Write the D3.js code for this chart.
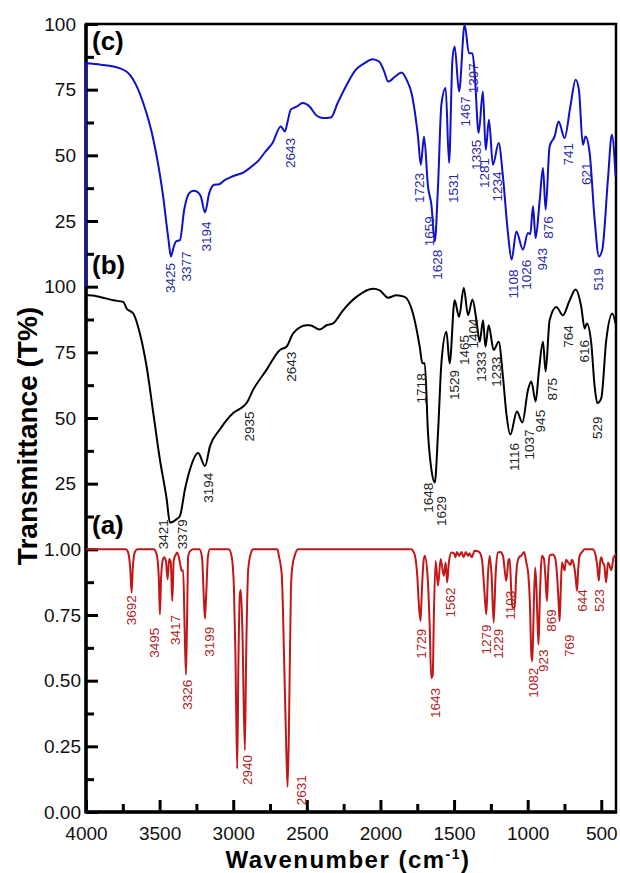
<!DOCTYPE html>
<html>
<head>
<meta charset="utf-8">
<script src="https://cdn.jsdelivr.net/npm/d3@7"></script>
<style>
  body { margin: 0; background: #fff; }
  svg { font-family: "Liberation Sans", Arial, sans-serif; }
</style>
</head>
<body>
<svg id="chart" width="620" height="873"></svg>
<script>
// spectra, [wavenumber, transmittance]
const specC = [
  [4000, 0], [4000, 85.1], [3900, 84.5], [3774, 83.2], [3700, 80.5], [3661, 76.9], [3600, 68],
  [3547, 57.2], [3479, 35.6], [3440, 18], [3423, 11.5], [3405, 15], [3389, 17.2], [3362, 17.7],
  [3333, 29.3], [3299, 35.6], [3270, 36.5], [3242, 36], [3220, 34.4], [3192, 28.3], [3163, 35.6],
  [3129, 38.8], [3095, 39], [3060, 40.5], [3027, 41.4], [2980, 42.5], [2936, 43.3], [2880, 45.5],
  [2824, 48.3], [2780, 51.5], [2733, 54.7], [2677, 61], [2649, 59.1], [2630, 63], [2609, 67.4],
  [2570, 68.5], [2529, 69.9], [2480, 68.5], [2439, 65.4], [2394, 64.2], [2337, 64.4], [2290, 70],
  [2235, 76.2], [2167, 82.6], [2110, 85], [2054, 86.6], [2009, 85.7], [1975, 82], [1948, 78.1],
  [1900, 80], [1857, 81.5], [1820, 78.5], [1789, 73.7], [1760, 64], [1745, 57.2], [1726, 46.4],
  [1704, 57.2], [1677, 38.2], [1654, 31.2], [1631, 17.2], [1609, 38.2], [1586, 69.3], [1557, 75.6],
  [1534, 47.1], [1511, 86.4], [1496, 91.4], [1466, 74.3], [1428, 99.7], [1399, 88.9], [1375, 88.9],
  [1360, 81.3], [1333, 58.5], [1304, 74.3], [1285, 52.1], [1263, 63.5], [1236, 46.4], [1197, 54.7],
  [1168, 42], [1134, 20.4], [1109, 10.3], [1077, 21], [1032, 14.1], [998, 20.4], [982, 20],
  [964, 30.6], [946, 18.5], [919, 32.5], [896, 45.2], [878, 29.3], [851, 53.4], [817, 57.2],
  [790, 62.9], [749, 56.6], [710, 68.6], [674, 78.8], [652, 75], [625, 54], [607, 57.2], [579, 50.9],
  [545, 25.5], [516, 11.5], [493, 14.1], [455, 40.7], [428, 57.8], [403, 42]
];

const specB = [
  [4000, 96.5], [3984, 96.7], [3905, 96.1], [3815, 94.8], [3747, 94.2], [3724, 91.7], [3679, 89.8],
  [3634, 82.2], [3588, 69.5], [3543, 51.9], [3498, 34.2], [3452, 19.1], [3430, 10.2], [3384, 11.5],
  [3362, 12.7], [3328, 22.8], [3294, 30.4], [3238, 36.7], [3192, 31.7], [3158, 39.2], [3091, 45.6],
  [3000, 51.9], [2932, 54.4], [2909, 55.7], [2865, 60.7], [2774, 68.3], [2683, 75.9], [2638, 77.1],
  [2593, 82.2], [2502, 85.3], [2480, 85.3], [2412, 83.7], [2366, 85.3], [2322, 86], [2254, 91],
  [2163, 96.1], [2050, 99.2], [2005, 98.6], [1948, 95.8], [1891, 96.7], [1835, 96.1], [1779, 89.8],
  [1733, 77.1], [1715, 70.8], [1699, 70.8], [1677, 44.3], [1654, 30.4], [1631, 25.4], [1609, 44.3],
  [1586, 70.8], [1552, 82.8], [1530, 70.8], [1496, 94.8], [1466, 88.5], [1434, 99.6], [1405, 89.1],
  [1375, 95.1], [1348, 87.2], [1326, 79], [1303, 87.2], [1287, 77.1], [1265, 85.3], [1231, 75.9],
  [1197, 79], [1168, 65.8], [1145, 51.9], [1118, 43.7], [1073, 52.5], [1036, 48.3], [998, 60.7],
  [975, 63.9], [946, 56.3], [923, 68.3], [896, 79], [878, 67.7], [851, 87.2], [805, 92.3],
  [761, 89.1], [715, 94.8], [674, 98.9], [636, 92.3], [613, 84.1], [598, 86], [568, 78.4],
  [545, 62], [527, 55.7], [500, 57.6], [466, 79.7], [425, 89.8], [403, 86]
];

const specA = [
  [4000, 1], [3730, 1], [3715, 0.99], [3700, 0.93], [3690, 0.835], [3682, 0.93], [3668, 0.99],
  [3650, 1], [3540, 1], [3520, 0.98], [3506, 0.9], [3498, 0.752], [3490, 0.89], [3478, 0.96],
  [3468, 0.97], [3457, 0.955], [3446, 0.886], [3435, 0.963], [3424, 0.95], [3414, 0.803],
  [3404, 0.96], [3392, 0.978], [3380, 0.988], [3362, 0.95], [3350, 0.918], [3340, 0.92],
  [3330, 0.7], [3321, 0.523], [3313, 0.75], [3306, 0.975], [3290, 0.995], [3272, 1], [3230, 1],
  [3212, 0.97], [3200, 0.82], [3192, 0.736], [3184, 0.82], [3172, 0.97], [3158, 1], [3030, 1],
  [3010, 0.97], [2995, 0.85], [2985, 0.6], [2973, 0.165], [2964, 0.6], [2955, 0.83], [2948, 0.845],
  [2938, 0.7], [2921, 0.235], [2912, 0.6], [2898, 0.925], [2880, 0.985], [2864, 1], [2700, 1],
  [2690, 0.975], [2670, 0.9], [2655, 0.6], [2640, 0.25], [2631, 0.096], [2622, 0.3], [2608, 0.85],
  [2598, 0.935], [2580, 0.98], [2559, 1], [1790, 1], [1775, 0.99], [1765, 0.975], [1750, 0.9],
  [1740, 0.8], [1728, 0.727], [1718, 0.85], [1708, 0.95], [1699, 0.976], [1680, 0.9], [1665, 0.7],
  [1655, 0.51], [1645, 0.52], [1637, 0.75], [1625, 0.956], [1609, 0.861], [1591, 0.963],
  [1570, 0.899], [1557, 0.95], [1547, 0.874], [1535, 0.95], [1518, 0.988], [1500, 0.985],
  [1490, 0.97], [1480, 0.99], [1465, 0.975], [1450, 0.99], [1435, 0.97], [1420, 0.99],
  [1405, 0.975], [1395, 0.985], [1380, 0.97], [1360, 0.995], [1330, 0.99], [1310, 0.96],
  [1295, 0.85], [1281, 0.752], [1270, 0.9], [1258, 0.976], [1245, 0.9], [1231, 0.721], [1218, 0.9],
  [1202, 0.988], [1185, 0.99], [1168, 0.976], [1145, 0.88], [1130, 0.96], [1122, 0.963],
  [1112, 0.85], [1104, 0.778], [1088, 0.78], [1078, 0.9], [1073, 0.937], [1058, 0.97],
  [1043, 0.976], [1025, 0.99], [1009, 0.95], [995, 0.9], [985, 0.8], [975, 0.6], [968, 0.574],
  [960, 0.75], [949, 0.931], [940, 0.85], [933, 0.72], [926, 0.638], [918, 0.8], [903, 0.976],
  [890, 0.965], [880, 0.9], [869, 0.803], [860, 0.92], [851, 0.976], [830, 0.98], [815, 0.97],
  [800, 0.9], [790, 0.8], [783, 0.727], [775, 0.85], [767, 0.95], [749, 0.92], [740, 0.96],
  [725, 0.95], [710, 0.94], [700, 0.96], [690, 0.95], [680, 0.92], [672, 0.88], [665, 0.842],
  [657, 0.92], [647, 0.976], [630, 0.99], [613, 1], [557, 1], [540, 0.98], [528, 0.94],
  [516, 0.88], [508, 0.95], [500, 0.97], [490, 0.95], [480, 0.94], [467, 0.874], [455, 0.95],
  [445, 0.94], [432, 0.92], [416, 0.97], [400, 0.98]
];

// peak labels: [text, wavenumber, value at top of the label]
const peaksC = [
  ["3425", 3430, 9.0], ["3377", 3317, 13.4], ["3194", 3181, 24.8], ["2643", 2615, 56.6],
  ["1723", 1733, 43.3], ["1659", 1670, 26.8], ["1628", 1616, 14.1], ["1531", 1502, 43.3],
  ["1467", 1423, 72.4], ["1397", 1371, 85.1], ["1335", 1348, 55.9], ["1281", 1292, 49.0],
  ["1234", 1208, 43.9], ["1108", 1100, 6.5], ["1026", 1009, 10.3], ["943", 900, 14.7],
  ["876", 862, 26.8], ["741", 727, 54.7], ["621", 602, 47.3], ["519", 523, 7.1]
];
const peaksB = [
  ["3421", 3477, 11.5], ["3379", 3344, 11.5], ["3194", 3170, 29.2], ["2935", 2892, 52.5],
  ["2643", 2604, 75.2], ["1718", 1722, 67.0], ["1648", 1677, 25.4], ["1629", 1586, 20.3],
  ["1529", 1496, 68.3], ["1465", 1428, 81.6], ["1404", 1371, 87.9], ["1333", 1314, 75.2],
  ["1233", 1213, 73.3], ["1116", 1088, 40.5], ["1037", 987, 45.6], ["945", 914, 53.1],
  ["875", 833, 65.2], ["764", 727, 85.3], ["616", 613, 79.7], ["529", 527, 50.6]
];
const peaksA = [
  ["3692", 3690, 0.825], ["3495", 3538, 0.702], ["3417", 3396, 0.75], ["3326", 3312, 0.504],
  ["3199", 3163, 0.705], ["2940", 2905, 0.217], ["2631", 2536, 0.14], ["1729", 1722, 0.698],
  ["1643", 1631, 0.472], ["1562", 1525, 0.855], ["1279", 1280, 0.714], ["1229", 1202, 0.698],
  ["1103", 1118, 0.842], ["1082", 964, 0.549], ["923", 896, 0.619], ["869", 839, 0.772],
  ["769", 720, 0.676], ["644", 629, 0.848], ["523", 512, 0.848]
];

const panelNames = ["(c)", "(b)", "(a)"];
const xTicks = [4000, 3500, 3000, 2500, 2000, 1500, 1000, 500];
const xMinor = [3750, 3250, 2750, 2250, 1750, 1250, 750];
const pctTicks = [25, 50, 75, 100];
const pctMinor = [12.5, 37.5, 62.5, 87.5];
const fracTicks = [0, 0.25, 0.5, 0.75, 1];
const fracMinor = [0.125, 0.375, 0.625, 0.875];

const svg = d3.select("#chart");
const mLeft = 86, mRight = 616, mTop = 24, mBottom = 812;
const ph = (mBottom - mTop) / 3;

const x = d3.scaleLinear().domain([4000, 400]).range([mLeft, mRight]);
const yC = d3.scaleLinear().domain([0, 100]).range([mTop + ph, mTop]);
const yB = d3.scaleLinear().domain([0, 100]).range([mTop + 2 * ph, mTop + ph]);
const yA = d3.scaleLinear().domain([0, 1]).range([mBottom, mTop + 2 * ph]);

// nameDy: where the (c)/(b)/(a) tag sits relative to the panel top
const panels = [
  { data: specC, peaks: peaksC, y: yC, color: "#1010c8", text: "#2828a8", ticks: pctTicks, minor: pctMinor, fmt: d3.format("d"), pad: 10, nameDy: 26 },
  { data: specB, peaks: peaksB, y: yB, color: "#000", text: "#222", ticks: pctTicks, minor: pctMinor, fmt: d3.format("d"), pad: 10, nameDy: -13 },
  { data: specA, peaks: peaksA, y: yA, color: "#c01818", text: "#b02020", ticks: fracTicks, minor: fracMinor, fmt: d3.format(".2f"), pad: 5, nameDy: -15 }
];

// frame
svg.append("rect")
  .attr("x", mLeft).attr("y", mTop)
  .attr("width", mRight - mLeft).attr("height", mBottom - mTop)
  .attr("fill", "none").attr("stroke", "#000").attr("stroke-width", 2.5);

// left axes, one per panel
panels.forEach((p) => {
  const g = svg.append("g").attr("transform", `translate(${mLeft},0)`);
  g.call(d3.axisLeft(p.y).tickValues(p.ticks).tickFormat(p.fmt).tickSizeInner(-12).tickSizeOuter(0).tickPadding(p.pad));
  const m = svg.append("g").attr("transform", `translate(${mLeft},0)`);
  m.call(d3.axisLeft(p.y).tickValues(p.minor).tickFormat("").tickSizeInner(-8).tickSizeOuter(0));
  [g, m].forEach((s) => {
    s.select(".domain").remove();
    s.selectAll("line").attr("stroke", "#000").attr("stroke-width", 3);
  });
  g.selectAll("text").attr("font-size", 19).attr("fill", "#111");
});

const gx = svg.append("g").attr("transform", `translate(0,${mBottom})`)
  .call(d3.axisBottom(x).tickValues(xTicks).tickFormat(d3.format("d")).tickSizeInner(-12).tickSizeOuter(0).tickPadding(15));
const gxm = svg.append("g").attr("transform", `translate(0,${mBottom})`)
  .call(d3.axisBottom(x).tickValues(xMinor).tickFormat("").tickSizeInner(-8).tickSizeOuter(0));
[gx, gxm].forEach((s) => {
  s.select(".domain").remove();
  s.selectAll("line").attr("stroke", "#000").attr("stroke-width", 3);
});
gx.selectAll("text").attr("font-size", 19).attr("fill", "#111");

svg.append("line")
  .attr("x1", mLeft).attr("x2", mLeft).attr("y1", mTop).attr("y2", mBottom + 1.5)
  .attr("stroke", "#000").attr("stroke-width", 3.5);
svg.append("line")
  .attr("x1", mLeft).attr("x2", mRight + 1).attr("y1", mBottom).attr("y2", mBottom)
  .attr("stroke", "#000").attr("stroke-width", 3.5);

// spectra + peak labels
panels.forEach((p, i) => {
  const line = d3.line()
    .x((d) => x(d[0]))
    .y((d) => p.y(d[1]))
    .curve(d3.curveMonotoneX);

  svg.append("path")
    .datum(p.data)
    .attr("d", line)
    .attr("fill", "none")
    .attr("stroke", p.color)
    .attr("stroke-width", 2)
    .attr("stroke-linejoin", "round");

  svg.append("g")
    .selectAll("text")
    .data(p.peaks)
    .join("text")
    .attr("transform", (d) => `translate(${x(d[1])},${p.y(d[2])}) rotate(-90)`)
    .attr("text-anchor", "end")
    .attr("dy", "0.35em")
    .attr("font-size", 13.5)
    .attr("fill", p.text)
    .text((d) => d[0]);

  svg.append("text")
    .attr("x", mLeft + 6)
    .attr("y", p.y.range()[1] + p.nameDy)
    .attr("font-size", 26)
    .attr("font-weight", "bold")
    .text(panelNames[i]);
});

const xTitle = svg.append("text")
  .attr("x", (mLeft + mRight) / 2 - 3)
  .attr("y", 868)
  .attr("text-anchor", "middle")
  .attr("font-size", 24)
  .attr("font-weight", "bold")
  .attr("letter-spacing", 1.5);
xTitle.append("tspan").text("Wavenumber (cm");
xTitle.append("tspan").attr("font-size", 14).attr("dy", -9).text("-1");
xTitle.append("tspan").attr("dy", 9).text(")");

svg.append("text")
  .attr("transform", `translate(37,${(mTop + mBottom) / 2 + 18}) rotate(-90)`)
  .attr("text-anchor", "middle")
  .attr("font-size", 28)
  .attr("font-weight", "bold")
  .text("Transmittance (T%)");
</script>
</body>
</html>
